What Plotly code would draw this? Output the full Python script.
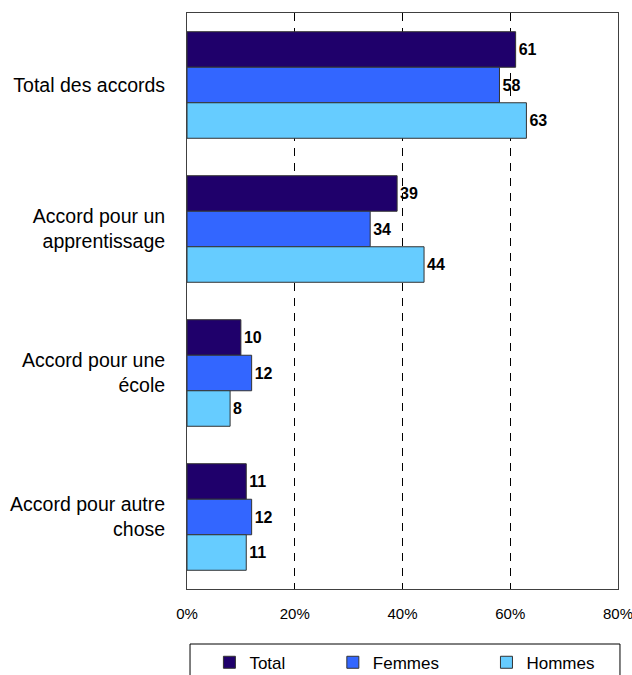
import plotly.graph_objects as go

categories = ["Total des accords", "Accord pour un<br>apprentissage",
              "Accord pour une<br>école", "Accord pour autre<br>chose"]
total = [61, 39, 10, 11]
femmes = [58, 34, 12, 12]
hommes = [63, 44, 8, 11]
x_ticks = [0, 20, 40, 60, 80]
x_tick_labels = ["0%", "20%", "40%", "60%", "80%"]

pad = "\u00a0" * 9
series = [("Total", total, "#1f006b", pad),
          ("Femmes", femmes, "#3366ff", pad),
          ("Hommes", hommes, "#66ccff", "")]

fig = go.Figure()
for name, vals, color, tail in series:
    fig.add_trace(go.Bar(
        y=categories, x=vals, name=name + tail, orientation="h",
        marker=dict(color=color, line=dict(color="#333333", width=1)),
        text=[str(v) for v in vals], textposition="outside",
        textfont=dict(family="Liberation Sans, Arial", size=16, color="black"),
        texttemplate="<b>%{text}</b>", cliponaxis=False,
    ))

# legend frame, runs off the bottom of the page like the original
fig.add_shape(type="rect", xref="paper", yref="paper",
              x0=0.007, x1=1.0046, y0=-0.0955, y1=-0.2,
              line=dict(color="black", width=1), fillcolor="white",
              layer="below")

fig.update_layout(
    width=632, height=675,
    barmode="group", bargap=0.26, bargroupgap=0,
    plot_bgcolor="white", paper_bgcolor="white",
    font=dict(family="Liberation Sans, Arial", color="black"),
    margin=dict(l=187, r=14, t=13, b=86, autoexpand=False),
    xaxis=dict(range=[0, 80], tickmode="array", tickvals=x_ticks,
               ticktext=x_tick_labels, ticklabeloverflow="allow",
               showgrid=True, gridcolor="black", griddash="8px,7px", gridwidth=1,
               showline=True, linecolor="#404040", linewidth=1, mirror=True,
               zeroline=False, tickfont=dict(size=15), ticks="",
               automargin=False, ticklabelstandoff=11),
    yaxis=dict(autorange="reversed", showline=True, linecolor="#404040",
               linewidth=1, mirror=True, tickfont=dict(size=19.5),
               ticks="", ticklabelstandoff=17, automargin=False),
    legend=dict(orientation="h", x=0.052, xanchor="left", y=-0.128,
                yanchor="middle", borderwidth=0, bgcolor="rgba(0,0,0,0)",
                font=dict(size=17), traceorder="normal"),
)

# drop the default 8px body margin so the 632x675 figure fits the window
fig.write_html("out.html",
               config={"displayModeBar": False},
               post_script="document.body.style.margin='0';"
                           "document.body.style.overflow='hidden';")
